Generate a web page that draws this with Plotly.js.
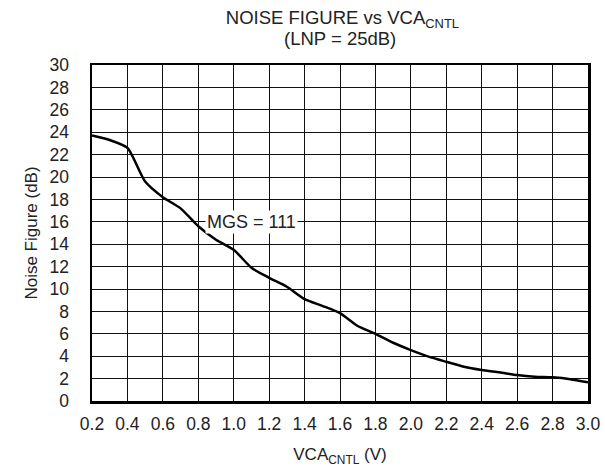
<!DOCTYPE html>
<html>
<head>
<meta charset="utf-8">
<script src="https://cdn.plot.ly/plotly-3.0.1.min.js"></script>
<style>html,body{margin:0;padding:0;background:#fff;}#chart{width:605px;height:472px;}</style>
</head>
<body>
<div id="chart"></div>
<script>
var vcaCntl = [0.2,0.3,0.4,0.5,0.6,0.7,0.8,0.9,1.0,1.1,1.2,1.3,1.4,1.5,1.6,1.7,1.8,1.9,2.0,2.1,2.2,2.3,2.4,2.5,2.6,2.7,2.8,2.9,3.0];
var noiseFigure = [23.7,23.3,22.6,19.6,18.2,17.2,15.6,14.4,13.5,11.9,11.0,10.2,9.1,8.5,7.85,6.7,6.0,5.2,4.55,3.96,3.5,3.06,2.77,2.56,2.32,2.17,2.11,1.95,1.67];
var curveLabel = 'MGS = 111';
var labelX = 1.1, labelY = 16.0;
var titleLine1 = 'NOISE FIGURE vs VCA<sub>CNTL</sub>';
var titleLine2 = '(LNP = 25dB)';

var fam = 'Liberation Sans, Arial, sans-serif';
var col = '#222';
var tickFont = {family: fam, size: 17.5, color: col};
var axisTitleFont = {family: fam, size: 17, color: col};
var titleFont = {family: fam, size: 18.5, color: col};
Plotly.newPlot('chart', [{
  x: vcaCntl, y: noiseFigure, mode: 'lines', type: 'scatter',
  line: {color: '#000', width: 2.5, shape: 'spline', smoothing: 0.6},
  hoverinfo: 'skip'
}], {
  width: 605, height: 472,
  margin: {l: 92, r: 17, t: 65, b: 71},
  paper_bgcolor: '#fff', plot_bgcolor: '#fff',
  font: {family: fam, color: col},
  showlegend: false,
  title: {text: titleLine1, x: 0.566, xanchor: 'center', y: 0.962, yanchor: 'middle', font: titleFont},
  xaxis: {
    range: [0.2, 3.0], dtick: 0.2, tick0: 0.2, tickformat: '.1f',
    showgrid: true, gridcolor: '#111', gridwidth: 1,
    showline: true, linecolor: '#000', linewidth: 2.5, mirror: true,
    ticks: '', zeroline: false, ticklabelstandoff: 5,
    title: {text: 'VCA<sub>CNTL</sub> (V)', font: axisTitleFont, standoff: 16},
    tickfont: tickFont
  },
  yaxis: {
    range: [0, 30], dtick: 2, tick0: 0,
    showgrid: true, gridcolor: '#111', gridwidth: 1,
    showline: true, linecolor: '#000', linewidth: 2.5, mirror: true,
    ticks: '', zeroline: false, ticklabelstandoff: 17,
    title: {text: 'Noise Figure (dB)', font: axisTitleFont, standoff: 8},
    tickfont: tickFont
  },
  annotations: [{
    x: labelX, y: labelY, xref: 'x', yref: 'y', text: curveLabel, showarrow: false,
    bgcolor: '#fff', font: {family: fam, size: 18, color: col}, borderpad: 1
  }, {
    x: 0.5, y: 1.08, xref: 'paper', yref: 'paper', xanchor: 'center', yanchor: 'middle',
    text: titleLine2, showarrow: false, font: titleFont
  }]
}, {displayModeBar: false, staticPlot: true});
</script>
</body>
</html>
